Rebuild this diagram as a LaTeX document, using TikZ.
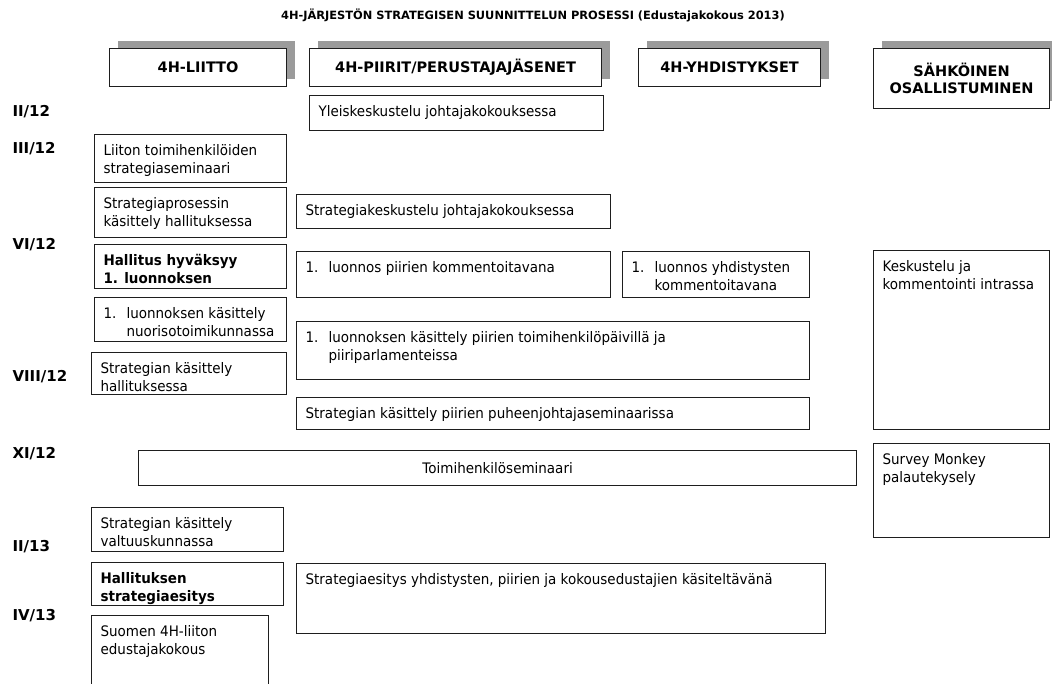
\documentclass[tikz,border=0pt]{standalone}
\usepackage{fontspec}
\setmainfont{DejaVu Sans}[FakeStretch=0.93]
\newfontfamily\headfont{DejaVu Sans}
\usetikzlibrary{shadows}
\definecolor{framegray}{RGB}{30,30,30}
\definecolor{shadowgray}{RGB}{155,155,155}
% text block of a box: width, height (px), contents
\newcommand{\cellbox}[3]{\parbox[t][\dimexpr #2pt-16pt\relax][t]{\dimexpr #1pt-18pt\relax}{\strut #3}}
\newcommand{\firstitem}[1]{\hangindent=23pt\hangafter=1\makebox[23pt][l]{1.}#1}
\begin{document}
\begin{tikzpicture}[
        x=1pt, y=-1pt,
        font=\fontsize{14.5}{18}\selectfont,
        cell/.style={draw=framegray, line width=1.2pt, fill=white, anchor=north west, inner xsep=9pt, inner ysep=8pt},
        head/.style={cell, inner sep=0pt, align=center, font=\headfont\fontsize{14.5}{17}\selectfont\bfseries,
            drop shadow={shadow xshift=8pt, shadow yshift=8pt, fill=shadowgray, opacity=1}},
        month/.style={anchor=west, font=\headfont\fontsize{15}{18}\selectfont\bfseries}
    ]
    \useasboundingbox (0,0) rectangle (1052,684);

    \node[font=\headfont\fontsize{11.4}{13}\selectfont\bfseries] (title) at (533,15) {4H-JÄRJESTÖN STRATEGISEN SUUNNITTELUN PROSESSI (Edustajakokous 2013)};

    % column headers
    \node[head, minimum width=177pt, minimum height=38pt] (liitto) at (109,48) {4H-LIITTO};
    \node[head, minimum width=292pt, minimum height=38pt] (piirit) at (309,48) {4H-PIIRIT/PERUSTAJAJÄSENET};
    \node[head, minimum width=182pt, minimum height=38pt] (yhdistykset) at (638,48) {4H-YHDISTYKSET};
    \node[head, minimum width=176pt, minimum height=60pt] (sahkoinen) at (873,48) {SÄHKÖINEN\\OSALLISTUMINEN};

    % months
    \node[month] (m1) at (9,112) {II/12};
    \node[month] (m2) at (9,149) {III/12};
    \node[month] (m3) at (9,245) {VI/12};
    \node[month] (m4) at (9,377) {VIII/12};
    \node[month] (m5) at (9,454) {XI/12};
    \node[month] (m6) at (9,547) {II/13};
    \node[month] (m7) at (9,616) {IV/13};

    % 4H-liitto
    \node[cell] (seminaari) at (94,134) {\cellbox{192}{48}{Liiton toimihenkilöiden\\strategiaseminaari}};
    \node[cell] (prosessi) at (94,187) {\cellbox{192}{50}{Strategiaprosessin\\käsittely hallituksessa}};
    \node[cell] (hyvaksyy) at (94,244) {\cellbox{192}{44}{\bfseries Hallitus hyväksyy\\1. luonnoksen}};
    \node[cell] (nuoriso) at (94,297) {\cellbox{192}{44}{\firstitem{luonnoksen käsittely\\nuorisotoimikunnassa}}};
    \node[cell] (hallitus) at (91,352) {\cellbox{195}{42}{Strategian käsittely\\hallituksessa}};
    \node[cell] (valtuusto) at (91,507) {\cellbox{192}{44}{Strategian käsittely\\valtuuskunnassa}};
    \node[cell] (esitys) at (91,562) {\cellbox{192}{43}{\bfseries Hallituksen\\strategiaesitys}};
    \node[cell] (edustajat) at (91,615) {\cellbox{177}{80}{Suomen 4H-liiton\\edustajakokous}};

    % 4H-piirit
    \node[cell] (yleis) at (309,95) {\cellbox{294}{35}{Yleiskeskustelu johtajakokouksessa}};
    \node[cell] (johtajat) at (296,194) {\cellbox{314}{34}{Strategiakeskustelu johtajakokouksessa}};
    \node[cell] (piirikomm) at (296,251) {\cellbox{314}{46}{\firstitem{luonnos piirien kommentoitavana}}};
    \node[cell] (toimipaivat) at (296,321) {\cellbox{513}{58}{\firstitem{luonnoksen käsittely piirien toimihenkilöpäivillä ja\\piiriparlamenteissa}}};
    \node[cell] (puheenjohtajat) at (296,397) {\cellbox{513}{32}{Strategian käsittely piirien puheenjohtajaseminaarissa}};
    \node[cell, inner sep=0pt, minimum width=718pt, minimum height=35pt] (toimiseminaari) at (138,450) {Toimihenkilöseminaari};
    \node[cell] (kasittely) at (296,563) {\cellbox{529}{70}{Strategiaesitys yhdistysten, piirien ja kokousedustajien käsiteltävänä}};

    % 4H-yhdistykset
    \node[cell] (yhdkomm) at (622,251) {\cellbox{187}{46}{\firstitem{luonnos yhdistysten\\kommentoitavana}}};

    % sähköinen osallistuminen
    \node[cell] (intra) at (873,250) {\cellbox{176}{179}{Keskustelu ja\\kommentointi intrassa}};
    \node[cell] (survey) at (873,443) {\cellbox{176}{94}{Survey Monkey\\palautekysely}};
\end{tikzpicture}
\end{document}
